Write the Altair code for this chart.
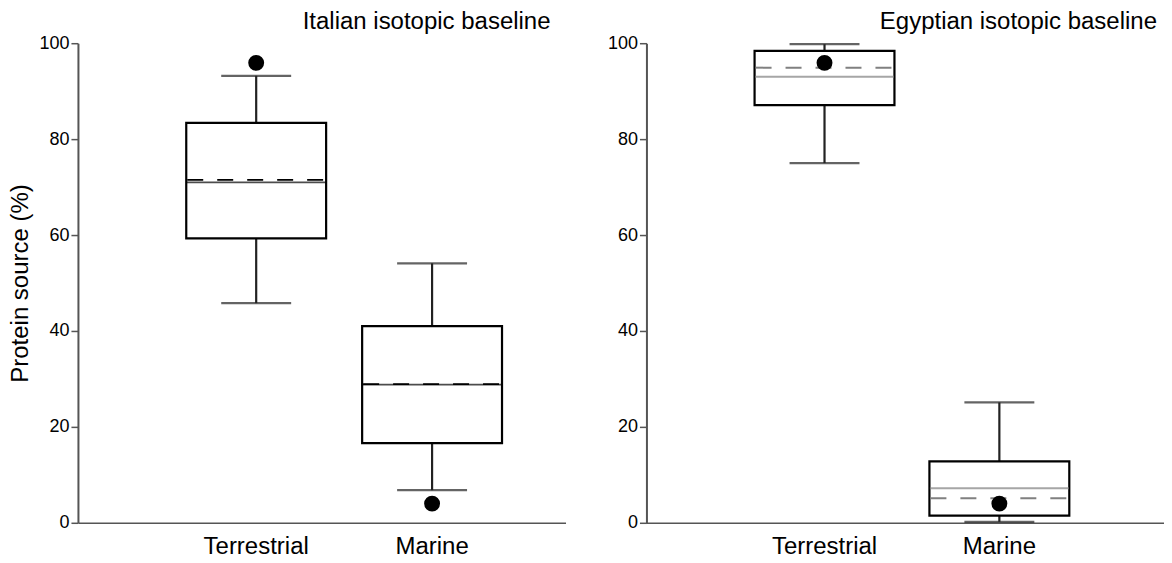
import altair as alt
import pandas as pd

categories = ["Terrestrial", "Marine"]

italian_low = [45.8, 6.8]
italian_q1 = [59.3, 16.6]
italian_median = [71.0, 28.8]
italian_mean = [71.5, 28.9]
italian_q3 = [83.4, 41.0]
italian_high = [93.2, 54.1]
italian_point = [95.9, 4.0]

egyptian_low = [75.0, 0.2]
egyptian_q1 = [87.1, 1.5]
egyptian_median = [93.0, 7.2]
egyptian_mean = [94.9, 5.1]
egyptian_q3 = [98.4, 12.8]
egyptian_high = [99.8, 25.1]
egyptian_point = [95.9, 4.0]

y_ticks = [0, 20, 40, 60, 80, 100]

FONT = "Liberation Sans"


def make_df(low, q1, med, mean, q3, high, pt):
    return pd.DataFrame({
        "cat": categories, "low": low, "q1": q1, "median": med,
        "mean": mean, "q3": q3, "high": high, "point": pt,
    })


def panel(df, title, width, pad_outer, align, y_title, line_color, med_width,
          title_dx):
    xs = alt.X("cat:N", sort=categories,
               scale=alt.Scale(domain=categories, paddingInner=0,
                               paddingOuter=pad_outer, align=align),
               axis=alt.Axis(title=None, labelAngle=0, ticks=False,
                             labelFontSize=24, labelColor="#000",
                             labelPadding=12, domainColor="#555",
                             domainWidth=1.5, labelFont=FONT))
    ys = alt.Y("low:Q", scale=alt.Scale(domain=[0, 100], nice=False),
               axis=alt.Axis(values=y_ticks, grid=False, tickSize=7,
                             tickColor="#555", tickWidth=1.5,
                             domainColor="#555", domainWidth=2,
                             labelFontSize=18, labelColor="#000",
                             labelPadding=2, labelFont=FONT,
                             title=y_title if y_title else None,
                             titleFontSize=24, titleFontWeight="normal",
                             titleColor="#000", titlePadding=6,
                             titleFont=FONT))
    base = alt.Chart(df)
    lower = base.mark_rule(color="#222", strokeWidth=2.2).encode(
        x=xs, y=ys, y2="q1:Q")
    upper = base.mark_rule(color="#222", strokeWidth=2.2).encode(
        x=xs, y=alt.Y("q3:Q"), y2="high:Q")
    cap_lo = base.mark_tick(orient="horizontal", size=70, thickness=2.2,
                            color="#222").encode(x=xs, y=alt.Y("low:Q"))
    cap_hi = base.mark_tick(orient="horizontal", size=70, thickness=2.2,
                            color="#222").encode(x=xs, y=alt.Y("high:Q"))
    box = base.mark_bar(size=140, fill="white", stroke="#000",
                        strokeWidth=2.2).encode(x=xs, y=alt.Y("q1:Q"),
                                                y2="q3:Q")
    med = base.mark_tick(orient="horizontal", size=139, thickness=med_width,
                         color=line_color).encode(x=xs, y=alt.Y("median:Q"))
    mean = base.mark_rule(color=line_color, strokeWidth=med_width,
                          strokeDash=[16, 14], xOffset=-69,
                          x2Offset=69).encode(x=xs, x2="cat:N",
                                              y=alt.Y("mean:Q"))
    pts = base.mark_circle(size=254, color="#000", opacity=1).encode(
        x=xs, y=alt.Y("point:Q"))
    return alt.layer(lower, upper, cap_lo, cap_hi, box, med, mean, pts).properties(
        width=width, height=480,
        title=alt.TitleParams(title, anchor="end", fontSize=24,
                              fontWeight="normal", color="#000", offset=0,
                              dx=title_dx, font=FONT))


italian = make_df(italian_low, italian_q1, italian_median, italian_mean,
                  italian_q3, italian_high, italian_point)
egyptian = make_df(egyptian_low, egyptian_q1, egyptian_median, egyptian_mean,
                   egyptian_q3, egyptian_high, egyptian_point)

left = panel(italian, "Italian isotopic baseline", 488, 0.386, 0.665,
             "Protein source (%)", "#000", 1.8, -15)
right = panel(egyptian, "Egyptian isotopic baseline", 518, 0.48, 0.54,
              None, "#808080", 2, -7)

chart = alt.hconcat(left, right, spacing=41).properties(
    padding={"left": 0, "top": 2, "right": 0, "bottom": 0}
).configure(font=FONT, view=alt.ViewConfig(stroke=None))

chart.save("out.html", embed_options={"renderer": "svg", "actions": False})
